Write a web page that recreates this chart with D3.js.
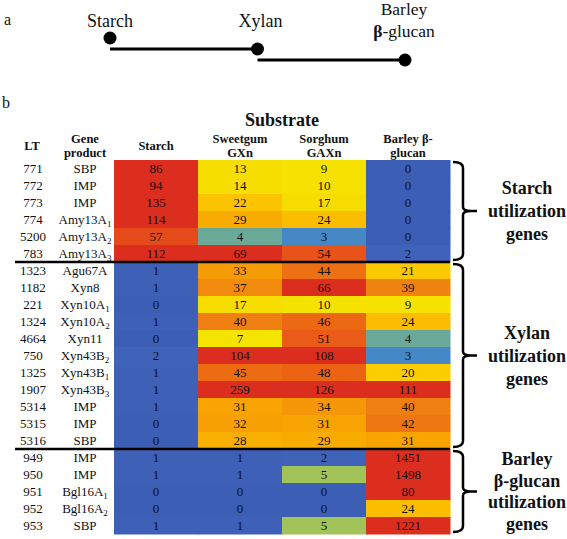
<!DOCTYPE html>
<html>
<head>
<meta charset="utf-8">
<script src="https://cdn.jsdelivr.net/npm/d3@7"></script>
<style>
  html, body { margin: 0; padding: 0; background: #fff; }
  svg { display: block; }
  text { font-family: "Liberation Serif", "Times New Roman", serif; fill: #111; }
</style>
</head>
<body>
<svg id="chart" width="567" height="539"></svg>
<script>
// ---------- DATA ----------
const pathwayNodes = ["Starch", "Xylan", "Barley β-glucan"];
const substrates = ["Starch", "Sweetgum GXn", "Sorghum GAXn", "Barley β-glucan"];
const substrateHeaders = [["Starch"], ["Sweetgum", "GXn"], ["Sorghum", "GAXn"], ["Barley β-", "glucan"]];
const locusTags = ["771","772","773","774","5200","783","1323","1182","221","1324","4664","750","1325","1907","5314","5315","5316","949","950","951","952","953"];
const geneNames = ["SBP","IMP","IMP","Amy13A","Amy13A","Amy13A","Agu67A","Xyn8","Xyn10A","Xyn10A","Xyn11","Xyn43B","Xyn43B","Xyn43B","IMP","IMP","SBP","IMP","IMP","Bgl16A","Bgl16A","SBP"];
const geneSubscripts = ["","","","1","2","3","","","1","2","","2","1","3","","","","","","1","2",""];
const starchValues   = [86,94,135,114,57,112,1,1,0,1,0,2,1,1,1,0,0,1,1,0,0,1];
const sweetgumValues = [13,14,22,29,4,69,33,37,17,40,7,104,45,259,31,32,28,1,1,0,0,1];
const sorghumValues  = [9,10,17,24,3,54,44,66,10,46,51,108,48,126,34,31,29,2,5,0,0,5];
const barleyValues   = [0,0,0,0,0,2,21,39,9,24,4,3,20,111,40,42,31,1451,1498,80,24,1221];
const groupNames = [["Starch","utilization","genes"], ["Xylan","utilization","genes"], ["Barley","β-glucan","utilization","genes"]];
const groupSizes = [6, 11, 5];

// ---------- BUILD ----------
const seriesValues = [starchValues, sweetgumValues, sorghumValues, barleyValues];
const nRows = locusTags.length;
const svg = d3.select("#chart");

// Panel a
svg.append("text").attr("x", 4).attr("y", 25).attr("font-size", 16).text("a");
const px = d3.scalePoint().domain(pathwayNodes).range([110, 405]);
const py = d3.scalePoint().domain(pathwayNodes).range([38, 60]);
const links = [[pathwayNodes[0], pathwayNodes[1]], [pathwayNodes[1], pathwayNodes[2]]];
svg.selectAll("line.link").data(links).enter().append("line")
  .attr("x1", d => px(d[0])).attr("x2", d => px(d[1]))
  .attr("y1", d => py(d[1])).attr("y2", d => py(d[1]))
  .attr("stroke", "#000").attr("stroke-width", 3);
svg.selectAll("circle.node").data(pathwayNodes).enter().append("circle")
  .attr("cx", d => px(d)).attr("cy", d => py(d)).attr("r", 6.5).attr("fill", "#000");
svg.append("text").attr("x", px(pathwayNodes[0])).attr("y", 27).attr("text-anchor", "middle").attr("font-size", 18).text("Starch");
svg.append("text").attr("x", px(pathwayNodes[1]) + 3).attr("y", 27).attr("text-anchor", "middle").attr("font-size", 18).text("Xylan");
const bl = svg.append("text").attr("x", px(pathwayNodes[2]) - 1).attr("text-anchor", "middle").attr("font-size", 17.5);
bl.append("tspan").attr("x", px(pathwayNodes[2]) - 1).attr("y", 15).text("Barley");
const bl2 = bl.append("tspan").attr("x", px(pathwayNodes[2]) - 1).attr("y", 37);
bl2.append("tspan").attr("font-weight", "bold").text("β");
bl2.append("tspan").text("-glucan");

// Panel b
svg.append("text").attr("x", 2).attr("y", 108).attr("font-size", 16).text("b");

const x = d3.scaleBand().domain(substrates).range([114, 450]);
const y = d3.scaleBand().domain(d3.range(nRows)).range([160, 534]);

const color = d3.scaleLinear()
  .domain([0, 2, 3, 4, 5, 7, 17, 22, 30, 38, 46, 56, 66])
  .range(["#3c5fb5", "#3f63b8", "#4687c6", "#6aa897", "#a2c35a", "#f5e400", "#f7dc00",
          "#fcc400", "#f8a800", "#f18610", "#ec6812", "#e64e19", "#dc2e1f"])
  .clamp(true);

// Header
svg.append("text").attr("x", 282).attr("y", 126).attr("text-anchor", "middle")
  .attr("font-size", 18).attr("font-weight", "bold").text("Substrate");
svg.append("text").attr("x", 32).attr("y", 150).attr("text-anchor", "middle")
  .attr("font-size", 12.5).attr("font-weight", "bold").text("LT");
const gp = svg.append("text").attr("text-anchor", "middle").attr("font-size", 12.5).attr("font-weight", "bold");
gp.append("tspan").attr("x", 85).attr("y", 143).text("Gene");
gp.append("tspan").attr("x", 85).attr("y", 157).text("product");
const headers = svg.selectAll("text.hdr").data(substrates).enter().append("text")
  .attr("class", "hdr").attr("text-anchor", "middle").attr("font-size", 12.5).attr("font-weight", "bold");
headers.each(function(d, i) {
  const lines = substrateHeaders[i];
  const cx = x(d) + x.bandwidth() / 2;
  const sel = d3.select(this);
  if (lines.length === 1) {
    sel.append("tspan").attr("x", cx).attr("y", 150).text(lines[0]);
  } else {
    sel.append("tspan").attr("x", cx).attr("y", 143).text(lines[0]);
    sel.append("tspan").attr("x", cx).attr("y", 157).text(lines[1]);
  }
});

// Cells
const cells = [];
substrates.forEach((s, j) => seriesValues[j].forEach((v, i) => cells.push({ s, i, v })));
svg.selectAll("rect.cell").data(cells).enter().append("rect")
  .attr("x", d => x(d.s)).attr("y", d => y(d.i))
  .attr("width", x.bandwidth() + 0.5).attr("height", y.bandwidth() + 0.5)
  .attr("fill", d => color(d.v));
svg.selectAll("text.val").data(cells).enter().append("text")
  .attr("x", d => x(d.s) + x.bandwidth() / 2).attr("y", d => y(d.i) + y.bandwidth() / 2 + 4.5)
  .attr("text-anchor", "middle").attr("font-size", 13).attr("fill", "#1a1a1a")
  .text(d => d.v);

// Row labels
svg.selectAll("text.lt").data(locusTags).enter().append("text")
  .attr("x", 33).attr("y", (d, i) => y(i) + y.bandwidth() / 2 + 4.5)
  .attr("text-anchor", "middle").attr("font-size", 13).text(d => d);
const gn = svg.selectAll("text.gn").data(geneNames).enter().append("text")
  .attr("x", 85).attr("y", (d, i) => y(i) + y.bandwidth() / 2 + 4.5)
  .attr("text-anchor", "middle").attr("font-size", 13);
gn.each(function(d, i) {
  const sel = d3.select(this);
  sel.append("tspan").text(d);
  if (geneSubscripts[i]) sel.append("tspan").attr("font-size", 9).attr("dy", 3).text(geneSubscripts[i]);
});

// Group separators & braces
let start = 0;
groupSizes.forEach((n, g) => {
  const top = y(start);
  const bottom = y(start + n - 1) + y.bandwidth();
  if (g > 0) {
    svg.append("line").attr("x1", 15).attr("x2", 450).attr("y1", top).attr("y2", top)
      .attr("stroke", "#000").attr("stroke-width", 2.5);
  }
  const t = top + 2, b = bottom - 2, m = (t + b) / 2;
  const bx = 463, hx = 453, tip = 477;
  const p = `M${hx},${t} Q${bx},${t} ${bx},${t + 6} L${bx},${m - 4} Q${bx},${m} ${tip - 6},${m} L${tip},${m}`
          + ` M${tip - 6},${m} Q${bx},${m} ${bx},${m + 4} L${bx},${b - 6} Q${bx},${b} ${hx},${b}`;
  svg.append("path").attr("d", p).attr("fill", "none").attr("stroke", "#000").attr("stroke-width", 2.5);
  const lines = groupNames[g];
  const lh = lines.length === 4 ? 21.5 : 23;
  const ty = m - (lines.length - 1) * lh / 2 + 6;
  const lab = svg.append("text").attr("text-anchor", "middle").attr("font-size", 18).attr("font-weight", "bold");
  lines.forEach((ln, k) => lab.append("tspan").attr("x", 527).attr("y", ty + k * lh).text(ln));
  start += n;
});
</script>
</body>
</html>
